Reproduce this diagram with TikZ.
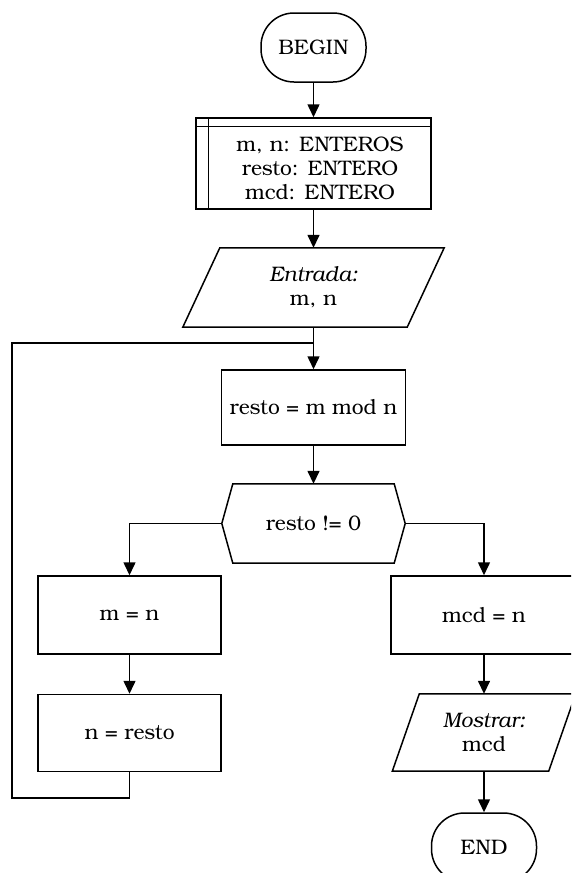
\documentclass[tikz,border=0pt]{standalone}
\usepackage{fontspec}
\setmainfont{TeX Gyre Bonum}
\usetikzlibrary{arrows.meta,calc}
\begin{document}
\begin{tikzpicture}[x=1pt,y=-1pt,
  every node/.style={font=\fontsize{21}{24}\selectfont, align=center, inner sep=0pt},
  flow/.style={line width=1.5pt},
  arr/.style={flow, -{Triangle[length=13pt,width=12pt]}},
  procbox/.style={draw, flow},
  term/.style={draw, flow, rounded corners=33pt, minimum width=105pt, minimum height=69pt}]
\useasboundingbox (0,0) rectangle (571,873);
\clip (0,0) rectangle (571,873);

% terminal: start
\node[term] (begin) at (313.5,47.5) {BEGIN};

% declarations box with the double top and left rules
\node[procbox, minimum width=235pt, minimum height=91pt] (vars) at (313.5,163.5) {};
\draw[flow] ($(vars.north west)+(0,9)$) -- ($(vars.north east)+(0,9)$);
\draw[flow] ($(vars.north west)+(13,0)$) -- ($(vars.south west)+(13,0)$);
\node (varstext) at (320,168) {m, n: ENTEROS\\resto: ENTERO\\mcd: ENTERO};

% input parallelogram
\node[minimum width=261pt, minimum height=79pt] (input) at (313.5,287.5) {\textit{Entrada:}\\m, n};
\draw[flow] ($(input.north west)+(37,0)$) -- (input.north east)
  -- ($(input.south east)-(37,0)$) -- (input.south west) -- cycle;

% remainder computation
\node[procbox, minimum width=184pt, minimum height=75pt] (modop) at (313.5,407.5) {resto = m mod n};

% decision hexagon
\node[minimum width=183pt, minimum height=79pt] (dec) at (313.5,523.5) {resto != 0};
\draw[flow] (dec.west) -- ($(dec.north west)+(11,0)$) -- ($(dec.north east)-(11,0)$)
  -- (dec.east) -- ($(dec.south east)-(11,0)$) -- ($(dec.south west)+(11,0)$) -- cycle;

% loop body
\node[procbox, minimum width=183pt, minimum height=78pt] (mn) at (129.5,615) {m = n};
\node[procbox, minimum width=183pt, minimum height=77pt] (nr) at (129.5,733) {n = resto};

% exit branch
\node[procbox, minimum width=186pt, minimum height=78pt] (mcd) at (484,615) {mcd = n};
\node[minimum width=183pt, minimum height=77pt] (output) at (484,732.5) {\textit{Mostrar:}\\mcd};
\draw[flow] ($(output.north west)+(27,0)$) -- (output.north east)
  -- ($(output.south east)-(27,0)$) -- (output.south west) -- cycle;
\node[term] (end) at (484,847.5) {END};

% connectors
\coordinate (join) at (313.5,343);
\coordinate (loopbl) at (12,798);
\draw[arr] (begin.south) -- (vars.north);
\draw[arr] (vars.south) -- (input.north);
\draw[arr] (input.south) -- (modop.north);
\draw[arr] (modop.south) -- (dec.north);
\draw[arr] (dec.west) -| (mn.north);
\draw[arr] (dec.east) -| (mcd.north);
\draw[arr] (mn.south) -- (nr.north);
\draw[flow] (nr.south) |- (loopbl) |- (join);
\draw[arr] (mcd.south) -- (output.north);
\draw[arr] (output.south) -- (end.north);
\end{tikzpicture}
\end{document}
